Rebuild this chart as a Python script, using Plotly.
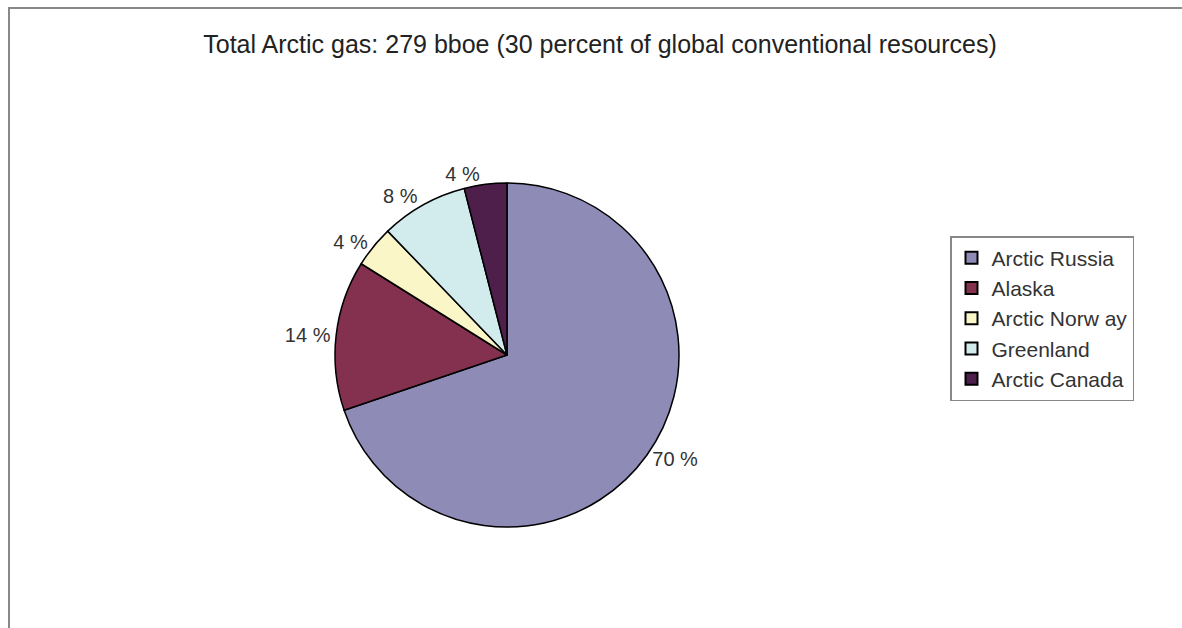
import plotly.graph_objects as go

regions = ["Arctic Russia", "Alaska", "Arctic Norway", "Greenland", "Arctic Canada"]
shares = [69.8, 14.1, 3.9, 8.2, 4.0]
label_text = ["70 %", "14 %", "4 %", "8 %", "4 %"]
legend_names = ["Arctic Russia", "Alaska", "Arctic Norw ay", "Greenland", "Arctic Canada"]
colors = ["#8E8BB7", "#83314F", "#FBF6C8", "#D2ECEE", "#4D1F4A"]

W, H = 1182, 628
cx, cy, r = 507, 355, 172

fig = go.Figure()
fig.add_trace(go.Pie(
    labels=legend_names,
    values=shares,
    text=label_text,
    textinfo="text",
    textposition="outside",
    sort=False,
    direction="clockwise",
    rotation=0,
    marker=dict(colors=colors, line=dict(color="#000000", width=1.5)),
    textfont=dict(family="Liberation Sans, Arial", size=20, color="#333333"),
    domain=dict(x=[(cx - r) / W, (cx + r) / W], y=[1 - (cy + r) / H, 1 - (cy - r) / H]),
    showlegend=True,
    hoverinfo="label+percent",
))

fig.update_layout(
    width=W, height=H,
    margin=dict(l=0, r=0, t=0, b=0),
    paper_bgcolor="white",
    plot_bgcolor="white",
    font=dict(family="Liberation Sans, Arial", color="#333333"),
    title=dict(text="Total Arctic gas: 279 bboe (30 percent of global conventional resources)",
               x=600 / W, xanchor="center", y=1 - 44 / H, yanchor="middle",
               font=dict(size=25, color="#222222")),
    legend=dict(x=950 / W, y=1 - 236 / H, xanchor="left", yanchor="top",
                bordercolor="#888888", borderwidth=1.5, bgcolor="white",
                font=dict(size=21, color="#333333"), tracegroupgap=0,
                itemsizing="constant"),
    shapes=[dict(type="rect", xref="paper", yref="paper",
                 x0=9 / W, x1=1.05, y0=-0.05, y1=1 - 8 / H,
                 line=dict(color="#888888", width=2), fillcolor="rgba(0,0,0,0)")],
)

fig.write_html("out.html")
